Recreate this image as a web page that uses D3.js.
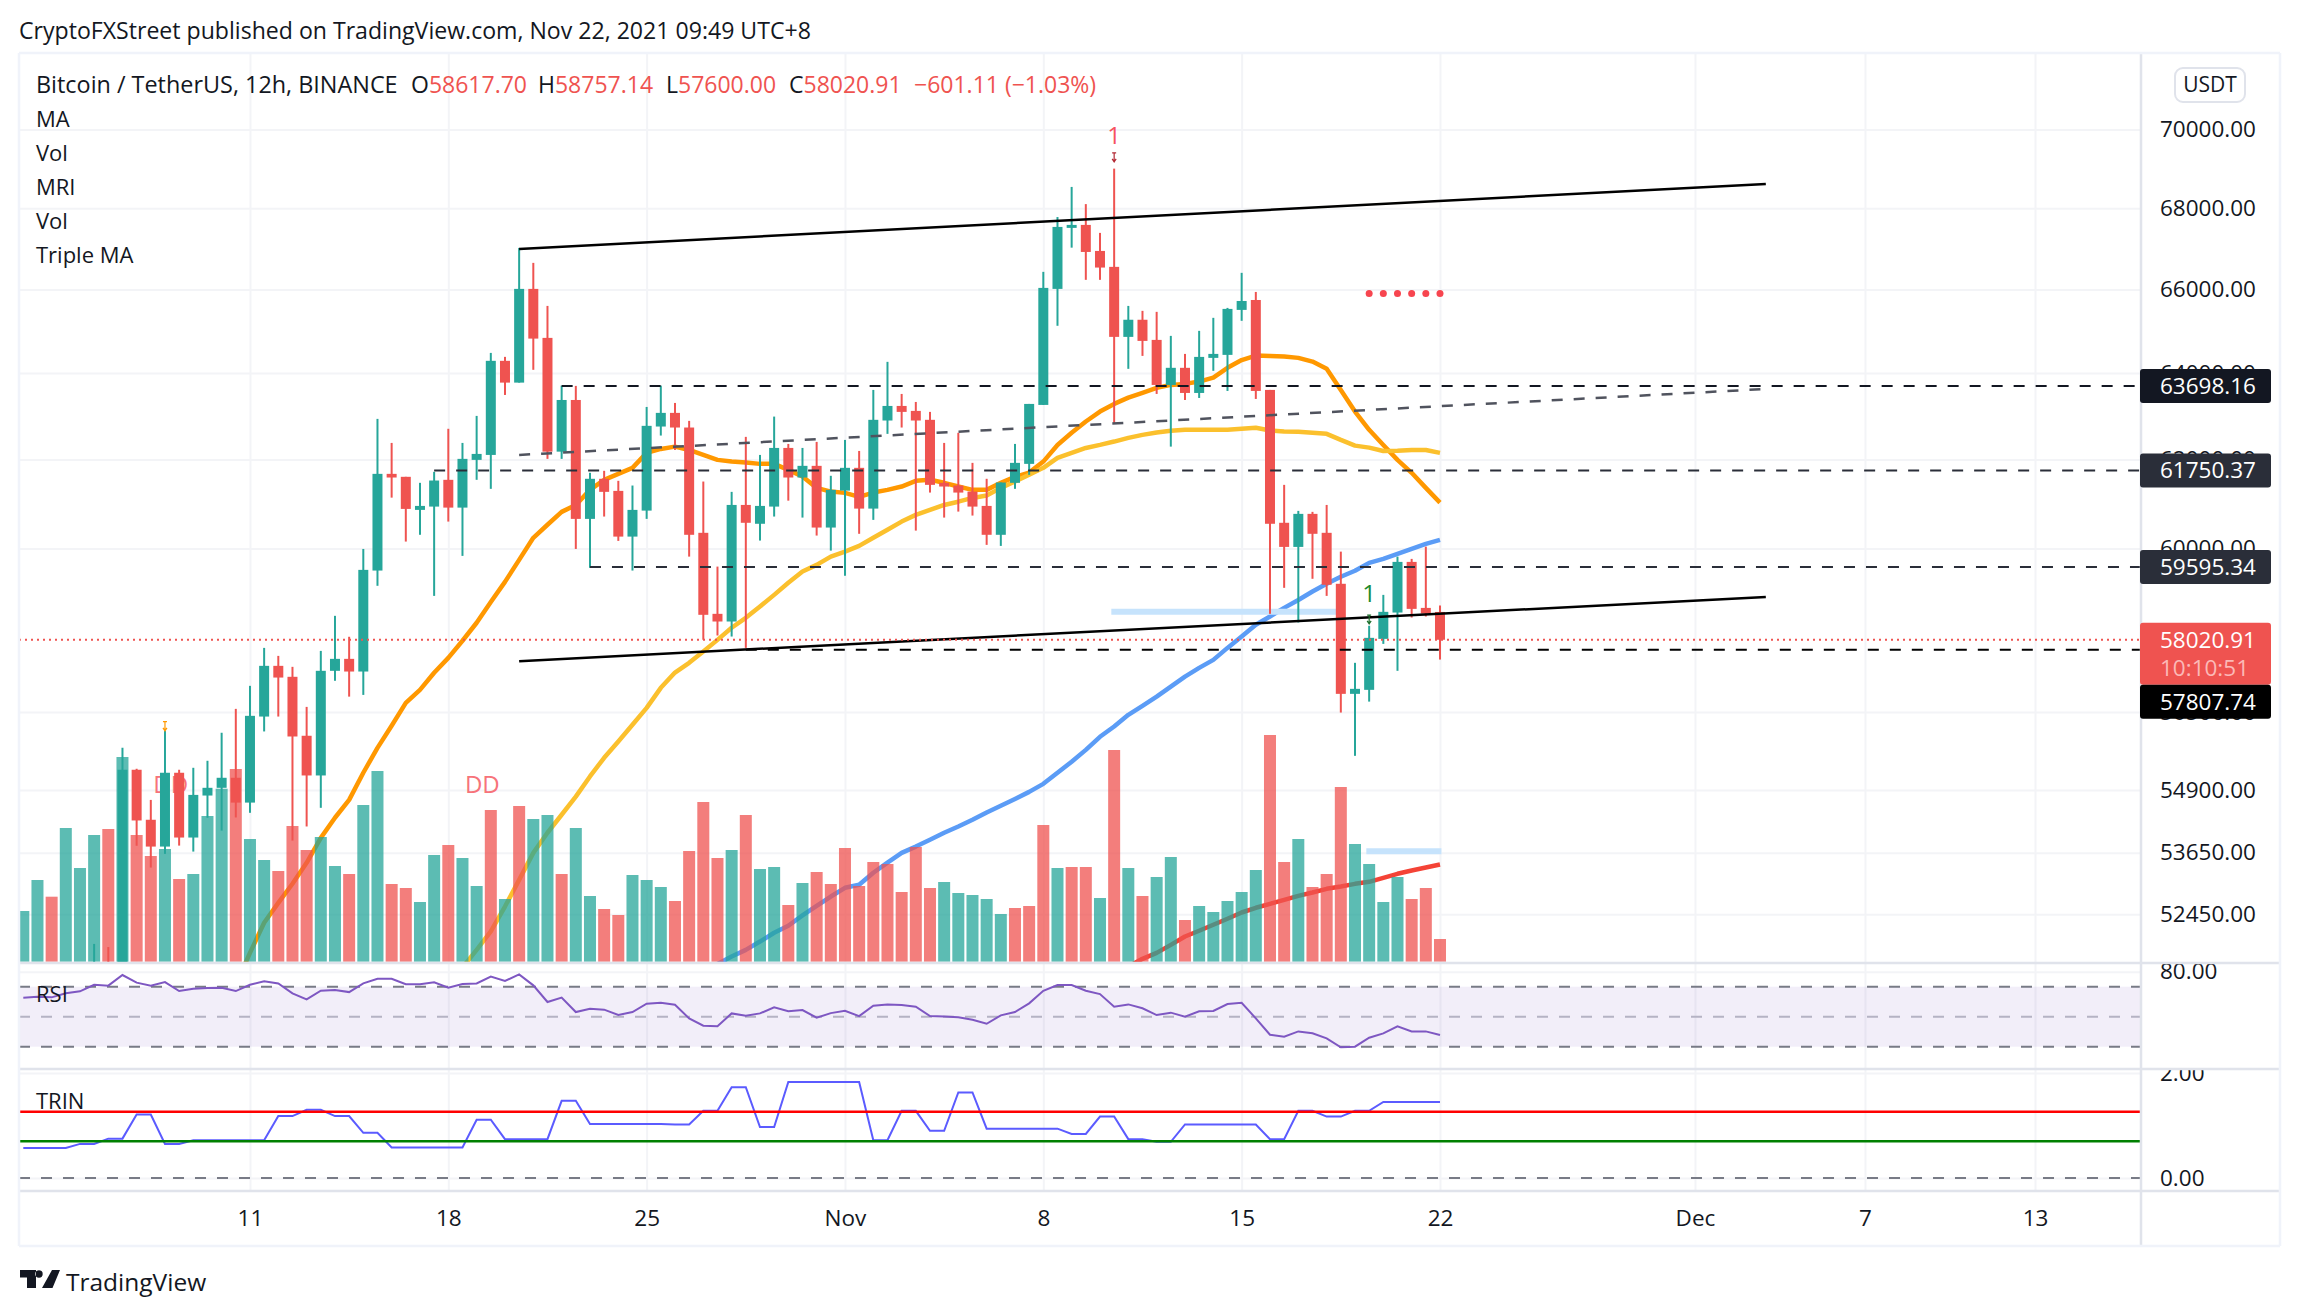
<!DOCTYPE html>
<html>
<head>
<meta charset="utf-8">
<title>BTC/USDT 12h</title>
<script src="https://d3js.org/d3.v7.min.js"></script>
<style>
html, body { margin: 0; padding: 0; background: #fff; }
svg { display: block; }
text { font-family: "Open Sans", sans-serif; fill: #131722; }
</style>
</head>
<body>
<div id="chart"></div>
<script>
// candles start at bar 5, the bars before that sit under the pane
var candleStart = 5;
var opens = [
  51000,51300,50900,55312,54304,53771,55251,53950,54790,54946,
  55149,54648,56405,57467,57236,56008,55196,57362,57615,57347,
  59517,61672,61605,60860,60934,61537,60911,61990,62103,64290,
  63777,66014,64835,62178,63371,60659,61560,61287,60265,60844,
  62755,63071,62732,60349,58577,58412,60971,60550,60934,62263,
  61589,61854,60466,61294,61809,60889,62894,63232,63117,62910,
  61469,61408,61271,60949,60305,61469,61899,63256,66014,67512,
  67586,66942,66551,64859,65269,64787,63723,64125,63535,64360,
  64431,65506,65745,63606,60572,60037,60771,60349,59228,56878,
  56962,58040,58605,59707,58705,58617.70];
var highs = [
  51880,51820,55760,55332,54702,56111,55312,55352,55495,56070,
  56565,57046,57848,57678,57446,56606,57784,58534,58085,59992,
  62932,62378,61605,61469,61718,62703,62378,63001,64478,64384,
  67016,66649,65602,63707,63700,61696,61741,61514,61408,63209,
  63707,63302,62886,61498,59604,61265,62517,62103,62985,62355,
  62263,62401,61628,62447,62194,63606,64266,63512,63325,63094,
  62378,62610,61922,61560,61476,62355,63279,66429,67782,68537,
  68105,67388,69000,65602,65483,65459,64883,64454,65003,65315,
  65554,66405,65940,63606,61423,60838,60816,60971,59933,57531,
  58321,58987,59823,59773,60043,58757.14];
var lows = [
  50800,50600,50600,53787,53358,53627,53790,53672,54344,54088,
  54350,54443,56097,56405,53890,54170,54543,57152,56820,56856,
  59184,61135,60155,60305,58965,60599,59839,61537,61333,63488,
  63777,64078,62013,62013,59992,59576,60711,60170,59517,60659,
  62547,62217,59823,58021,58112,58090,57848,60177,60711,61067,
  60688,60288,59955,59403,60327,60637,62586,62732,60398,61249,
  60688,60822,60733,60082,60059,61333,61650,63256,65124,67023,
  66234,66234,62817,64101,64407,63512,62293,63371,63418,64054,
  63582,65243,63395,58577,59140,58391,59337,58965,56488,55596,
  56716,57933,57362,58498,58519,57600];
var closes = [
  51400,50900,55312,54290,53771,55251,53950,54803,54946,55149,
  54648,56420,57467,57220,55993,55196,57362,57615,57347,59532,
  61672,61589,60882,60949,61521,60911,62013,62126,64290,63777,
  66014,64818,62178,63371,60659,61560,61265,60265,60860,62771,
  63071,62732,60305,58556,58412,60971,60572,60949,62263,61589,
  61854,60466,61310,61809,60889,62910,63232,63094,62894,61423,
  61385,61249,60934,60305,61476,61922,63279,66038,67536,67586,
  66917,66534,64859,65269,64763,63723,64125,63535,64383,64454,
  65530,65721,63582,60550,60037,60771,60327,59206,56878,56983,
  58062,58620,59707,58684,58583,58020.91];

var volumes = [
  5070,8170,6500,13370,9370,12670,13270,20470,12670,10570,
  11270,8270,8770,14570,17300,19270,12270,10170,9070,13570,
  11170,12470,9570,8770,15670,19070,7770,7370,5970,10670,
  11670,10370,7570,15170,6270,15570,14270,14670,8770,13370,
  6570,5270,4670,8670,8170,7470,6070,11070,15970,10370,
  11170,14670,9270,9470,5670,7870,8970,7770,11370,7570,
  9970,9770,6970,11470,7370,7970,6870,6670,6270,4770,
  5370,5570,13670,9370,9470,9470,6370,21170,9370,6570,
  8470,10470,4170,5570,4970,6070,6970,9170,22670,9970,
  12270,7470,8770,17470,11770,9770,5970,8470,6270,7370,2270];
var volumeUp = [
  1,1,0,1,1,1,0,1,0,0,
  1,0,1,1,1,0,1,1,0,0,
  0,1,1,0,1,1,0,0,1,1,
  0,1,1,0,1,0,1,1,0,1,
  1,0,0,1,1,1,0,0,0,0,
  1,0,1,1,0,1,0,0,0,0,
  0,0,0,0,0,1,1,1,1,1,
  0,0,0,1,0,0,1,0,1,0,
  1,1,0,1,1,1,1,1,0,0,
  1,0,0,0,1,1,1,1,0,0,0];

// moving averages, each with the bar it begins on
var maFastStart = 15;
var maFast = [
  51100,51709,52285,52669,53041,53450,53944,54344,54702,55251,55759,
  56215,56689,56962,57320,57636,58000,58385,58834,59270,59751,
  60238,60528,60816,60971,61310,61537,61672,61809,62149,62240,
  62293,62217,62103,61990,61951,61928,61899,61899,61763,61611,
  61355,61271,61242,61151,61249,61310,61385,61514,61537,61469,
  61385,61310,61310,61469,61605,61702,61951,62332,62610,62871,
  63101,63279,63425,63535,63653,63723,63747,63801,63895,64125,
  64309,64414,64407,64391,64360,64272,64101,63606,63101,62679,
  62332,61990,61696,61355,61023];
var maSlowStart = 31;
var maSlow = [
  51430,51766,52118,52598,53117,53646,54045,54404,54769,55176,55556,
  55890,56236,56586,57004,57326,57531,57769,58019,58278,58492,
  58734,58987,59250,59497,59642,59823,59933,60059,60238,60416,
  60599,60749,60860,60971,61044,61128,61181,61355,61498,61650,
  61809,62036,62149,62263,62332,62409,62494,62563,62616,62656,
  62679,62679,62679,62679,62703,62725,62663,62640,62633,62610,
  62587,62447,62316,62270,62194,62201,62217,62217,62149];
var maBlueStart = 49;
var maBlue = [
  51500,51639,51766,51925,52094,52228,52426,52612,52792,52962,53020,
  53256,53456,53646,53771,53905,54045,54170,54304,54449,54583,
  54722,54864,55026,55251,55475,55718,55987,56200,56441,56627,
  56820,57031,57241,57425,57594,57848,58090,58342,58520,58705,
  58877,59059,59228,59381,59513,59686,59773,59882,59992,60103,60193];
var maRedStart = 78;
var maRed = [
  51450,51596,51709,51861,52021,52131,52246,52362,52483,52574,52651,
  52727,52805,52870,52942,52987,53039,53078,53156,53235,53300,53358,53417];

var rsiValues = [
  62.7,63.3,62.9,65.6,66.9,71.3,70.7,77.8,72.7,70.7,
  73.1,67.1,68.7,69.1,69.3,67.1,71.3,73.6,72.2,65.6,
  61.6,67.3,67.8,66.4,72.2,75.3,75.3,71.6,71.6,72.9,
  69.3,71.8,72.2,76.7,73.8,78.2,70.9,59.8,62.7,53.1,
  55.3,54.7,51.1,53.1,58.7,59.3,58.0,48.9,44.0,43.6,
  52.2,50.7,52.2,56.2,53.6,54.4,49.3,52.4,54.0,50.4,
  57.3,58.2,57.8,56.7,50.4,50.2,49.6,48.0,45.3,50.9,
  53.1,58.9,67.3,71.1,71.1,67.3,65.1,56.7,58.2,55.6,
  51.1,52.7,50.0,53.6,53.8,58.4,59.3,48.9,38.0,36.7,
  40.2,38.9,35.6,29.6,30.0,36.0,38.9,43.6,40.2,40.2,37.8];
var trinValues = [
  0.57,0.57,0.57,0.57,0.65,0.65,0.75,0.75,1.21,1.21,
  0.65,0.65,0.72,0.72,0.72,0.72,0.72,0.72,1.18,1.18,
  1.30,1.30,1.18,1.18,0.86,0.86,0.58,0.58,0.58,0.58,
  0.58,0.58,1.11,1.11,0.74,0.74,0.74,0.74,1.47,1.47,
  1.03,1.03,1.03,1.03,1.03,1.03,1.02,1.02,1.28,1.28,
  1.73,1.73,0.97,0.97,1.83,1.83,1.83,1.83,1.83,1.83,
  0.72,0.72,1.28,1.28,0.90,0.90,1.63,1.63,0.94,0.94,
  0.94,0.94,0.94,0.94,0.84,0.84,1.17,1.17,0.74,0.74,
  0.69,0.69,1.02,1.02,1.02,1.02,1.02,1.02,0.74,0.74,
  1.28,1.28,1.17,1.17,1.28,1.28,1.45,1.45,1.45,1.45,1.45];

var priceTicks = [70000,68000,66000,64000,62000,60000,56500,54900,53650,52450];
var rsiTicks = [80];
var trinTicks = [2,0];
var timeBars = [16,30,44,58,72,86,100,118,130,142];
var timeLabels = ['11','18','25','Nov','8','15','22','Dec','7','13'];

var levelPrices = [63698.16,61750.37,59595.34,57807.74];
var levelStarts = [38,29,40,51];
var levelColors = ['#131722','#2a2e39','#2a2e39','#000000'];
var levelShift = [0,0,0,52];
var lastPrice = 58020.91;
var dotBars = [95,96,97,98,99,100];
var dotPrice = 65900;

var legendNames = ['MA','Vol','MRI','Vol','Triple MA'];

var W = 2300, H = 1316;
var paneLeft = 19, paneRight = 2141, outerRight = 2280;
var paneTop = 53, mainBottom = 963, rsiBottom = 1069, trinBottom = 1191, paneEnd = 1246;
var red = '#ef5350', green = '#26a69a';

var x = d3.scaleLinear().domain([0, 142]).range([23.3, 2035]);
var y = d3.scaleLog().domain([70000, 52450]).range([129.5, 914.2]);
var yVol = d3.scaleLinear().domain([0, 30000]).range([961.7, 661.7]);
var yRsi = d3.scaleLinear().domain([30, 70]).range([1046.7, 986.7]);
var yTrin = d3.scaleLinear().domain([0, 2]).range([1178, 1073]);

var svg = d3.select('#chart').append('svg').attr('width', W).attr('height', H);
var defs = svg.append('defs');

function addClip(id, x0, y0, x1, y1) {
  defs.append('clipPath').attr('id', id).append('rect')
    .attr('x', x0).attr('y', y0).attr('width', x1 - x0).attr('height', y1 - y0);
}
addClip('clipMain', paneLeft, paneTop, paneRight, mainBottom - 1);
addClip('clipRsi', paneLeft, mainBottom, paneRight, rsiBottom);
addClip('clipTrin', paneLeft, rsiBottom, paneRight, trinBottom);
addClip('clipAxisMain', paneRight, paneTop, outerRight, mainBottom);
addClip('clipAxisRsi', paneRight, mainBottom + 1, outerRight, rsiBottom);
addClip('clipAxisTrin', paneRight, rsiBottom + 1, outerRight, trinBottom);

function styleGrid(sel) {
  sel.select('.domain').remove();
  sel.selectAll('text').remove();
  sel.selectAll('line').attr('stroke', '#f3f4f7').attr('stroke-width', 2);
}

// grid, through the axes
svg.append('g')
  .attr('transform', 'translate(0,' + trinBottom + ')')
  .call(d3.axisTop(x).tickValues(timeBars).tickSize(trinBottom - paneTop))
  .call(styleGrid);
svg.append('g')
  .attr('transform', 'translate(' + paneLeft + ',0)')
  .call(d3.axisRight(y).tickValues(priceTicks).tickSize(paneRight - paneLeft))
  .call(styleGrid);
svg.append('g')
  .attr('transform', 'translate(' + paneLeft + ',0)')
  .call(d3.axisRight(yRsi).tickValues(rsiTicks).tickSize(paneRight - paneLeft))
  .call(styleGrid);
svg.append('g')
  .attr('transform', 'translate(' + paneLeft + ',0)')
  .call(d3.axisRight(yTrin).tickValues(trinTicks).tickSize(paneRight - paneLeft))
  .call(styleGrid);

var main = svg.append('g').attr('clip-path', 'url(#clipMain)');

function drawMa(values, start, color, width, opacity) {
  var line = d3.line()
    .x(function (d, i) { return x(start + i); })
    .y(function (d) { return y(d); });
  main.append('path').datum(values)
    .attr('d', line)
    .attr('fill', 'none')
    .attr('stroke', color)
    .attr('stroke-width', width)
    .attr('stroke-opacity', opacity)
    .attr('stroke-linejoin', 'round');
}
drawMa(maFast, maFastStart, '#ff9800', 4.5, 1);
drawMa(maSlow, maSlowStart, '#fbc02d', 4.5, 1);
drawMa(maBlue, maBlueStart, '#5b9cf6', 4.5, 1);
drawMa(maRed, maRedStart, '#f44336', 4.5, 1);

// pale blue tool lines
main.append('line')
  .attr('x1', x(76.8)).attr('x2', x(92.8)).attr('y1', y(58620)).attr('y2', y(58620))
  .attr('stroke', '#c6e3fc').attr('stroke-width', 6);
main.append('line')
  .attr('x1', x(94.8)).attr('x2', x(100.1)).attr('y1', y(53680)).attr('y2', y(53680))
  .attr('stroke', '#c6e3fc').attr('stroke-width', 6);

function marker(txt, bar, price, color) {
  main.append('text').text(txt)
    .attr('x', x(bar)).attr('y', y(price))
    .attr('text-anchor', 'middle').attr('dominant-baseline', 'central')
    .style('font-size', '24px').style('fill', color);
}
marker('DD', 10.4, 55026, '#f7737a');
marker('DD', 32.4, 55026, '#f7737a');

// volume
main.selectAll('rect.vol').data(volumes).enter().append('rect')
  .attr('class', 'vol')
  .attr('x', function (d, i) { return x(i) - 6; })
  .attr('y', function (d) { return yVol(d); })
  .attr('width', 12)
  .attr('height', function (d) { return yVol(0) - yVol(d); })
  .attr('fill', function (d, i) { return volumeUp[i] ? green : red; })
  .attr('fill-opacity', 0.75);

// candles
var candleColor = function (d, i) { return closes[i] >= opens[i] ? green : red; };
main.selectAll('line.wick').data(opens).enter().append('line')
  .attr('class', 'wick')
  .attr('x1', function (d, i) { return x(candleStart + i); })
  .attr('x2', function (d, i) { return x(candleStart + i); })
  .attr('y1', function (d, i) { return y(highs[i]); })
  .attr('y2', function (d, i) { return y(lows[i]); })
  .attr('stroke', candleColor)
  .attr('stroke-width', 2);
main.selectAll('rect.body').data(opens).enter().append('rect')
  .attr('class', 'body')
  .attr('x', function (d, i) { return x(candleStart + i) - 5; })
  .attr('y', function (d, i) { return y(Math.max(opens[i], closes[i])); })
  .attr('width', 10)
  .attr('height', function (d, i) {
    return Math.max(2, Math.abs(y(opens[i]) - y(closes[i])));
  })
  .attr('fill', candleColor);

// trend lines
function trend(bar0, p0, bar1, p1, color, width, dash) {
  main.append('line')
    .attr('x1', x(bar0)).attr('y1', y(p0)).attr('x2', x(bar1)).attr('y2', y(p1))
    .attr('stroke', color).attr('stroke-width', width)
    .attr('stroke-dasharray', dash);
}
trend(35, 66990, 123, 68611, '#000', 2.5, null);
trend(35, 57565, 123, 58942, '#000', 2.5, null);
trend(35, 62103, 123, 63628, '#50535e', 2.5, '11 11');

// horizontal levels
levelPrices.forEach(function (p, i) {
  main.append('line')
    .attr('x1', x(levelStarts[i])).attr('x2', paneRight)
    .attr('y1', y(p)).attr('y2', y(p))
    .attr('stroke', levelColors[i]).attr('stroke-width', 2)
    .attr('stroke-dasharray', '11 11');
});
main.append('line')
  .attr('x1', paneLeft).attr('x2', paneRight).attr('y1', y(lastPrice)).attr('y2', y(lastPrice))
  .attr('stroke', red).attr('stroke-width', 2).attr('stroke-dasharray', '2 4');

// small arrows and signals
function arrow(bar, p0, p1, color) {
  var px = x(bar), a = y(p0), b = y(p1);
  main.append('path')
    .attr('d', 'M' + (px - 2) + ',' + a + 'H' + (px + 2) + 'M' + px + ',' + a + 'V' + b +
      'M' + (px - 2) + ',' + (b - 3) + 'L' + px + ',' + b + 'L' + (px + 2) + ',' + (b - 3))
    .attr('fill', 'none').attr('stroke', color).attr('stroke-width', 1.2);
}
marker('1', 77, 69884, '#f7525f');
arrow(77, 69400, 69170, '#b22833');
arrow(10, 56300, 56110, '#ff9800');
marker('1', 95, 59035, '#1b8a2e');
arrow(95, 58550, 58360, '#1b6e2a');
main.selectAll('circle.dot').data(dotBars).enter().append('circle')
  .attr('class', 'dot')
  .attr('cx', function (d) { return x(d); })
  .attr('cy', y(dotPrice))
  .attr('r', 3.5)
  .attr('fill', '#f7454f');

// RSI pane
var rsi = svg.append('g').attr('clip-path', 'url(#clipRsi)');
rsi.append('rect')
  .attr('x', paneLeft).attr('width', paneRight - paneLeft)
  .attr('y', yRsi(70)).attr('height', yRsi(30) - yRsi(70))
  .attr('fill', '#7e57c2').attr('fill-opacity', 0.1);
[[70, '#787b86'], [50, '#b5b3c4'], [30, '#787b86']].forEach(function (r) {
  rsi.append('line')
    .attr('x1', paneLeft).attr('x2', paneRight).attr('y1', yRsi(r[0])).attr('y2', yRsi(r[0]))
    .attr('stroke', r[1]).attr('stroke-width', 2).attr('stroke-dasharray', '11 11');
});
rsi.append('path').datum(rsiValues)
  .attr('d', d3.line().x(function (d, i) { return x(i); }).y(function (d) { return yRsi(d); }))
  .attr('fill', 'none').attr('stroke', '#7e57c2').attr('stroke-width', 2);

// TRIN pane
var trin = svg.append('g').attr('clip-path', 'url(#clipTrin)');
trin.append('path').datum(trinValues)
  .attr('d', d3.line().x(function (d, i) { return x(i); }).y(function (d) { return yTrin(d); }))
  .attr('fill', 'none').attr('stroke', '#5b5bff').attr('stroke-width', 2);
trin.append('line').attr('x1', paneLeft).attr('x2', paneRight)
  .attr('y1', yTrin(1.26)).attr('y2', yTrin(1.26))
  .attr('stroke', '#ff0000').attr('stroke-width', 2.5);
trin.append('line').attr('x1', paneLeft).attr('x2', paneRight)
  .attr('y1', yTrin(0.70)).attr('y2', yTrin(0.70))
  .attr('stroke', '#008000').attr('stroke-width', 2.5);
trin.append('line').attr('x1', paneLeft).attr('x2', paneRight)
  .attr('y1', yTrin(0)).attr('y2', yTrin(0))
  .attr('stroke', '#787b86').attr('stroke-width', 2).attr('stroke-dasharray', '11 11');

// value axes
var fmt = d3.format('.2f');
function styleAxis(sel) {
  sel.select('.domain').remove();
  sel.selectAll('.tick line').remove();
  sel.selectAll('text')
    .attr('x', 19)
    .attr('text-anchor', 'start')
    .style('font-size', '22.5px')
    .style('fill', '#131722');
}
svg.append('g').attr('clip-path', 'url(#clipAxisMain)').append('g')
  .attr('transform', 'translate(' + paneRight + ',0)')
  .call(d3.axisRight(y).tickValues(priceTicks).tickFormat(fmt))
  .call(styleAxis);
svg.append('g').attr('clip-path', 'url(#clipAxisRsi)').append('g')
  .attr('transform', 'translate(' + paneRight + ',0)')
  .call(d3.axisRight(yRsi).tickValues(rsiTicks).tickFormat(fmt))
  .call(styleAxis);
svg.append('g').attr('clip-path', 'url(#clipAxisTrin)').append('g')
  .attr('transform', 'translate(' + paneRight + ',0)')
  .call(d3.axisRight(yTrin).tickValues(trinTicks).tickFormat(fmt))
  .call(styleAxis);

// time axis
svg.append('g')
  .attr('transform', 'translate(0,' + trinBottom + ')')
  .call(d3.axisBottom(x).tickValues(timeBars).tickFormat(function (d, i) { return timeLabels[i]; }))
  .call(function (sel) {
    sel.select('.domain').remove();
    sel.selectAll('.tick line').remove();
    sel.selectAll('text').attr('y', 28).attr('dy', '0.32em')
      .style('font-size', '22.5px').style('fill', '#131722');
  });

// frame
function rule(x1, y1, x2, y2, color, width) {
  svg.append('line').attr('x1', x1).attr('y1', y1).attr('x2', x2).attr('y2', y2)
    .attr('stroke', color).attr('stroke-width', width);
}
rule(paneLeft, mainBottom, outerRight, mainBottom, '#e0e3eb', 2.5);
rule(paneLeft, rsiBottom, outerRight, rsiBottom, '#e0e3eb', 2.5);
rule(paneLeft, trinBottom, outerRight, trinBottom, '#e0e3eb', 2.5);
rule(paneRight, paneTop, paneRight, paneEnd, '#e0e3eb', 2.5);
rule(paneLeft, paneTop, outerRight, paneTop, '#f0f3fa', 2.5);
rule(paneLeft, paneEnd, outerRight, paneEnd, '#f0f3fa', 2.5);
rule(paneLeft, paneTop, paneLeft, paneEnd, '#f0f3fa', 2.5);
rule(outerRight, paneTop, outerRight, paneEnd, '#f0f3fa', 2.5);

// price labels
function priceLabel(p, shift, color) {
  var cy = y(p) + shift;
  svg.append('rect')
    .attr('x', paneRight - 1).attr('y', cy - 17).attr('width', 131).attr('height', 34)
    .attr('rx', 3).attr('fill', color);
  svg.append('text').text(fmt(p))
    .attr('x', paneRight + 19).attr('y', cy).attr('dy', '0.35em')
    .style('font-size', '22.5px').style('fill', '#fff');
}
svg.append('rect')
  .attr('x', paneRight - 1).attr('y', y(lastPrice) - 17).attr('width', 131).attr('height', 62)
  .attr('rx', 3).attr('fill', red);
svg.append('text').text(fmt(lastPrice))
  .attr('x', paneRight + 19).attr('y', y(lastPrice)).attr('dy', '0.35em')
  .style('font-size', '22.5px').style('fill', '#fff');
svg.append('text').text('10:10:51')
  .attr('x', paneRight + 19).attr('y', y(lastPrice) + 28).attr('dy', '0.35em')
  .style('font-size', '22.5px').style('fill', '#fbb9b7');
levelPrices.forEach(function (p, i) { priceLabel(p, levelShift[i], levelColors[i]); });

// currency button
svg.append('rect')
  .attr('x', 2175).attr('y', 68).attr('width', 70).attr('height', 34).attr('rx', 8)
  .attr('fill', '#fff').attr('stroke', '#e0e3eb').attr('stroke-width', 2);
svg.append('text').text('USDT')
  .attr('x', 2210).attr('y', 85).attr('dy', '0.35em').attr('text-anchor', 'middle')
  .style('font-size', '21px');

// header and legend
svg.append('text').text('CryptoFXStreet published on TradingView.com, Nov 22, 2021 09:49 UTC+8')
  .attr('x', 19).attr('y', 31).attr('dy', '0.35em').style('font-size', '23.1px');
svg.append('text').text('Bitcoin / TetherUS, 12h, BINANCE')
  .attr('x', 36).attr('y', 85).attr('dy', '0.35em').style('font-size', '23.4px');

var legendX = [411, 538, 666, 789];
var legendKeys = ['O', 'H', 'L', 'C'];
var legendVals = [opens[95], highs[95], lows[95], closes[95]];
legendKeys.forEach(function (k, i) {
  var t = svg.append('text').attr('x', legendX[i]).attr('y', 85).attr('dy', '0.35em').style('font-size', '23px');
  t.append('tspan').text(k);
  t.append('tspan').text(fmt(legendVals[i])).style('fill', red);
});
svg.append('text').text('\u2212601.11 (\u22121.03%)')
  .attr('x', 914).attr('y', 85).attr('dy', '0.35em').style('font-size', '23px').style('fill', red);
legendNames.forEach(function (n, i) {
  svg.append('text').text(n)
    .attr('x', 36).attr('y', 119 + i * 34).attr('dy', '0.35em').style('font-size', '22px');
});
svg.append('text').text('RSI').attr('x', 36).attr('y', 994).attr('dy', '0.35em').style('font-size', '22px');
svg.append('text').text('TRIN').attr('x', 36).attr('y', 1101).attr('dy', '0.35em').style('font-size', '22px');

// footer logo
svg.append('g').attr('transform', 'translate(19,1270)').append('path')
  .attr('d', 'M1,0H17V18H8V7.5H1Z M16.3,4a3.7,3.7 0 1,0 7.4,0a3.7,3.7 0 1,0 -7.4,0Z M23,18L33,0H41L33.5,18Z')
  .attr('fill', '#131722');
svg.append('text').text('TradingView')
  .attr('x', 66).attr('y', 1282).attr('dy', '0.35em').style('font-size', '24.5px');
</script>
</body>
</html>
